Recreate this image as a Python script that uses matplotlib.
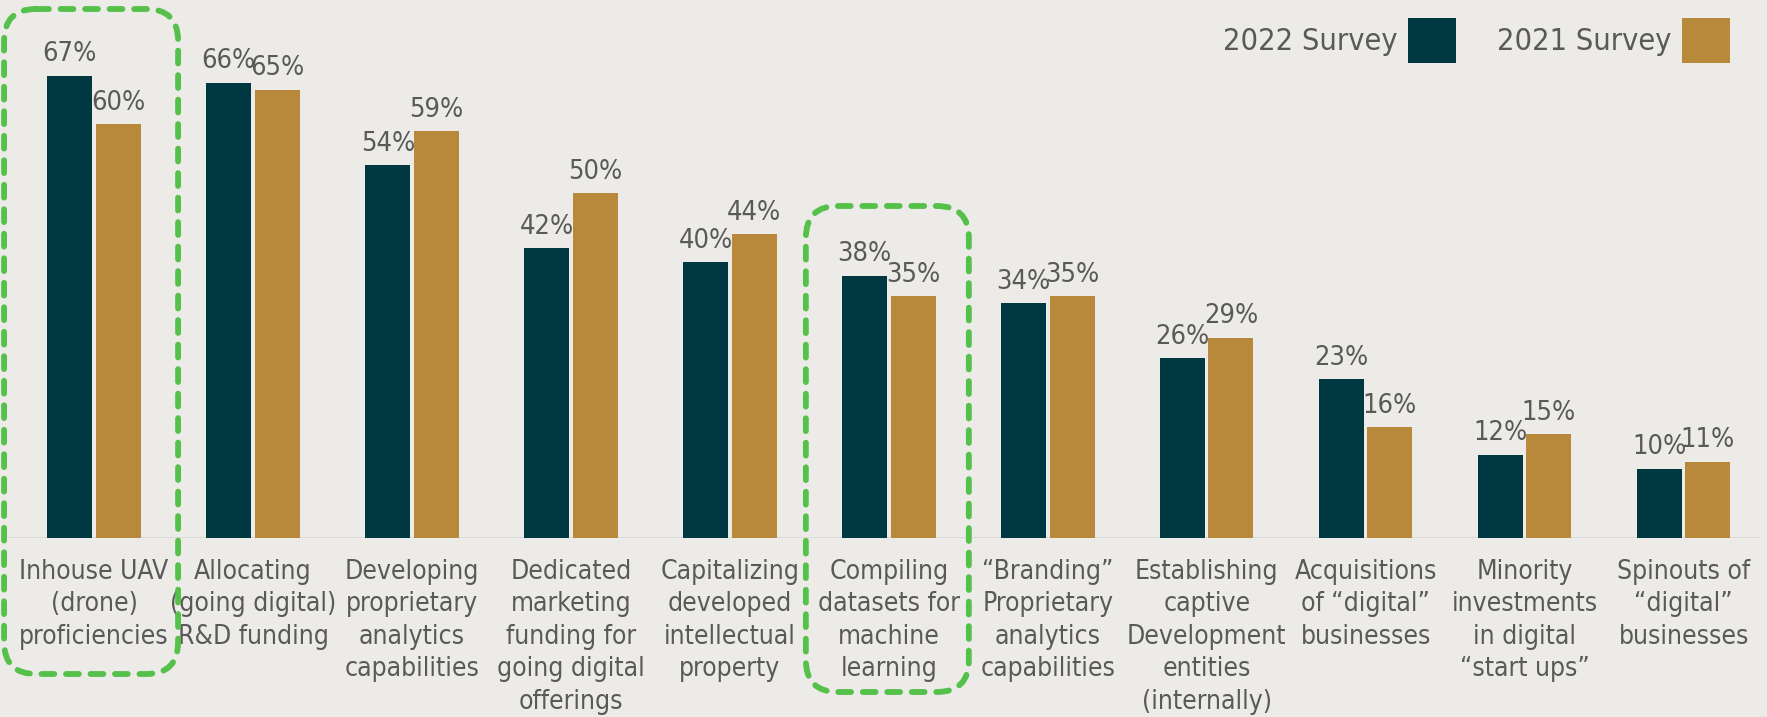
import matplotlib.pyplot as plt
import matplotlib.patches as mpatches
from matplotlib import font_manager
import numpy as np

categories = [
    "Inhouse UAV\n(drone)\nproficiencies",
    "Allocating\n(going digital)\nR&D funding",
    "Developing\nproprietary\nanalytics\ncapabilities",
    "Dedicated\nmarketing\nfunding for\ngoing digital\nofferings",
    "Capitalizing\ndeveloped\nintellectual\nproperty",
    "Compiling\ndatasets for\nmachine\nlearning",
    "\u201cBranding\u201d\nProprietary\nanalytics\ncapabilities",
    "Establishing\ncaptive\nDevelopment\nentities\n(internally)",
    "Acquisitions\nof \u201cdigital\u201d\nbusinesses",
    "Minority\ninvestments\nin digital\n\u201cstart ups\u201d",
    "Spinouts of\n\u201cdigital\u201d\nbusinesses",
]
survey_2022 = [67, 66, 54, 42, 40, 38, 34, 26, 23, 12, 10]
survey_2021 = [60, 65, 59, 50, 44, 35, 35, 29, 16, 15, 11]
highlighted = [0, 5]

BG = "#ECEBE7"
TEAL = "#003842"
GOLD = "#B8893A"
TEXT = "#595959"
GREEN = "#55C04A"

names = {f.name for f in font_manager.fontManager.ttflist}
if "Liberation Sans Narrow" in names:
    FONT = dict(family="Liberation Sans Narrow")
else:
    FONT = dict(family="DejaVu Sans", stretch="condensed")

W, H = 1767, 717
fig = plt.figure(figsize=(W / 100, H / 100), dpi=100, facecolor=BG)
ax = fig.add_axes([0, 179.5 / H, 1, 1 - 179.5 / H])
ax.set_facecolor(BG)

x = np.arange(len(categories))
bw = 0.283
gap = 0.011
b1 = ax.bar(x - bw / 2 - gap, survey_2022, bw, color=TEAL, label="2022 Survey")
b2 = ax.bar(x + bw / 2 + gap, survey_2021, bw, color=GOLD, label="2021 Survey")

for bars in (b1, b2):
    for b in bars:
        ax.annotate(f"{int(b.get_height())}%",
                    xy=(b.get_x() + b.get_width() / 2, b.get_height()),
                    xytext=(0, 6), textcoords="offset points",
                    ha="center", va="bottom", fontsize=19.5, color=TEXT,
                    **FONT)

ax.set_xlim(-94.1 / 158.95, (W - 94.1) / 158.95)
ax.set_ylim(0, 78)
for s in ax.spines.values():
    s.set_visible(False)
ax.set_yticks([])
ax.set_xticks([])
ax.axhline(0, xmin=9 / W, xmax=1758 / W, color="#D9D9D9", lw=2, zorder=0)

# category labels below the baseline
for i, lab in enumerate(categories):
    px = ax.transData.transform((i, 0))[0]
    fig.text(px / W, 1 - 559 / H, lab, ha="center", va="top", fontsize=19,
             color=TEXT, linespacing=1.32, **FONT)

leg = ax.legend(ncol=2, markerfirst=False, frameon=False, loc="upper right",
                bbox_to_anchor=(1 - 10 / W, 1 + 10 / (H - 179.5)),
                prop=dict(size=22, **FONT), labelcolor=TEXT,
                handlelength=1.55, handleheight=1.9, handletextpad=0.35,
                columnspacing=1.35)

# dashed highlight boxes, overlay in pixel space
ov = fig.add_axes([0, 0, 1, 1], zorder=5)
ov.set_xlim(0, W)
ov.set_ylim(H, 0)
ov.axis("off")
box_px = {0: (-90, 84, 9, 674), 5: (-83, 80, 206, 692)}
for i in highlighted:
    cx = ax.transData.transform((i, 0))[0]
    dx0, dx1, y0, y1 = box_px[i]
    x0, x1 = cx + dx0, cx + dx1
    p = mpatches.FancyBboxPatch((x0, y0), x1 - x0, y1 - y0,
                                boxstyle="round,pad=0,rounding_size=32",
                                fill=False, ec=GREEN, lw=4.2,
                                linestyle=(0, (2.2, 2.0)), capstyle="round")
    ov.add_patch(p)

fig.savefig("out.png", dpi=100, facecolor=BG)
